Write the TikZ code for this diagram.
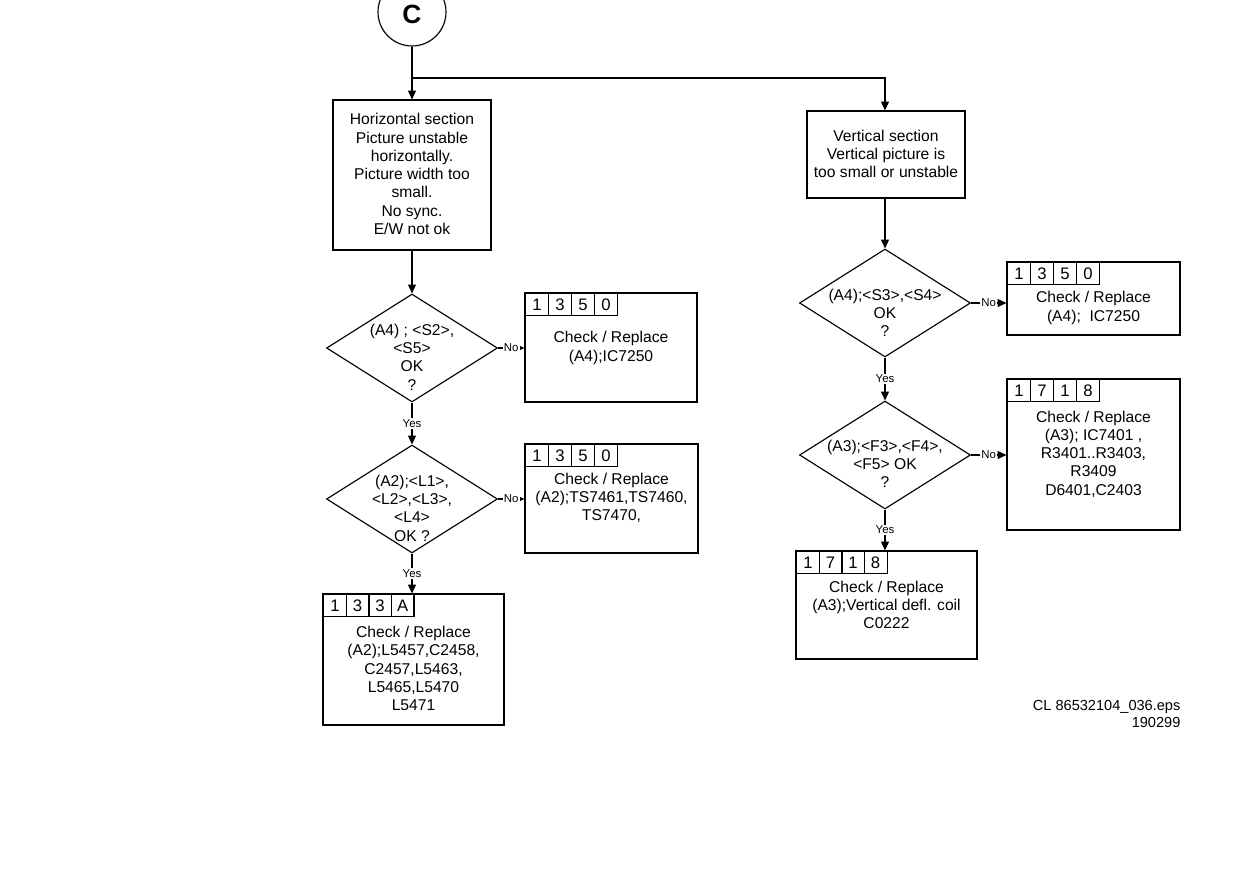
\documentclass[tikz,border=0pt]{standalone}
\usepackage{fontspec}
\setmainfont{Liberation Sans}
\usetikzlibrary{shapes.geometric,arrows.meta}
\begin{document}
\begin{tikzpicture}[x=0.02cm,y=-0.02cm,
  line width=0.65pt,
  every node/.style={font=\fontsize{8.9}{10.4}\selectfont},
  box/.style={draw, rectangle, inner sep=0},
  dia/.style={draw, diamond, inner sep=0, minimum width=3.42cm, minimum height=2.16cm},
  txt/.style={align=center, inner sep=0},
  cell/.style={draw, rectangle, anchor=north west, minimum width=0.46cm, minimum height=0.44cm, inner sep=0, font=\fontsize{9.5}{10}\selectfont},
  arr/.style={-{Triangle[length=5pt,width=4.5pt]}},
  lab/.style={font=\fontsize{6.5}{7}\selectfont, fill=white, inner sep=0.8pt}
]
\useasboundingbox (0,0) rectangle (1245,893);
\clip (0,0) rectangle (1245,893);

% start connector
\node[draw, circle, minimum size=1.36cm, inner sep=0] (c) at (412,12) {};
\node[inner sep=0, font=\fontsize{15}{15}\bfseries] (ct) at (412,14) {C};

% left column
\node[box, minimum width=3.16cm, minimum height=3.0cm] (h) at (412,175) {};
\node[txt] (ht) at (412,174) {Horizontal section\\Picture unstable\\horizontally.\\Picture width too\\small.\\No sync.\\E/W not ok};

\node[dia] (d1) at (412,348) {};
\node[txt] (d1t) at (412,357) {(A4) ; <S2>,\\<S5>\\OK\\?};

\node[dia] (d2) at (412,499) {};
\node[txt] (d2t) at (412,508) {(A2);<L1>,\\<L2>,<L3>,\\<L4>\\OK ?};

\node[box, minimum width=3.44cm, minimum height=2.18cm] (b1) at (611,347.5) {};
\node[txt] (b1t) at (611,348) {Check / Replace\\(A4);IC7250};

\node[box, minimum width=3.46cm, minimum height=2.18cm] (b2) at (611.5,498.5) {};
\node[txt] (b2t) at (611.5,498) {Check / Replace\\(A2);TS7461,TS7460,\\TS7470,};

\node[box, minimum width=3.62cm, minimum height=2.62cm] (b5) at (413.5,659.5) {};
\node[txt] (b5t) at (413.5,668.5) {Check / Replace\\(A2);L5457,C2458,\\C2457,L5463,\\L5465,L5470\\L5471};

% right column
\node[box, minimum width=3.16cm, minimum height=1.74cm] (v) at (886,154.5) {};
\node[txt] (vt) at (886,154) {Vertical section\\Vertical picture is\\too small or unstable};

\node[dia] (d3) at (885,303) {};
\node[txt] (d3t) at (885,313) {(A4);<S3>,<S4>\\OK\\?};

\node[dia] (d4) at (885,455) {};
\node[txt] (d4t) at (885,464) {(A3);<F3>,<F4>,\\<F5> OK\\?};

\node[box, minimum width=3.46cm, minimum height=1.46cm] (b3) at (1093.5,298.5) {};
\node[txt] (b3t) at (1093.5,308) {Check / Replace\\(A4);\ \ IC7250};

\node[box, minimum width=3.46cm, minimum height=3.02cm] (b4) at (1093.5,454.5) {};
\node[txt] (b4t) at (1093.5,454) {Check / Replace\\(A3);\ IC7401 ,\\R3401..R3403,\\R3409\\D6401,C2403};

\node[box, minimum width=3.62cm, minimum height=2.16cm] (b6) at (886.5,605) {};
\node[txt] (b6t) at (886.5,605) {Check / Replace\\(A3);Vertical defl. coil\\C0222};

% tabs
\foreach \d [count=\k] in {1,3,5,0} \node[cell] (b1c\k) at ({525+23*(\k-1)},293) {\d};
\foreach \d [count=\k] in {1,3,5,0} \node[cell] (b2c\k) at ({525+23*(\k-1)},444) {\d};
\foreach \d [count=\k] in {1,3,3,A} \node[cell] (b5c\k) at ({323+22.5*(\k-1)},594) {\d};
\foreach \d [count=\k] in {1,3,5,0} \node[cell] (b3c\k) at ({1007+23*(\k-1)},262) {\d};
\foreach \d [count=\k] in {1,7,1,8} \node[cell] (b4c\k) at ({1007+23*(\k-1)},379) {\d};
\foreach \d [count=\k] in {1,7,1,8} \node[cell] (b6c\k) at ({796+22.5*(\k-1)},551) {\d};

% connectors
\coordinate (j) at (412,78);
\draw[arr] (c.south) -- (h.north);
\draw[arr] (j) -| (d3.north |- v.north);
\draw[arr] (h.south) -- (d1.north);
\draw[arr] (d3.north |- v.south) -- (d3.north);

\draw[arr] (d1.east) -- node[lab, pos=0.5] {No} (d1.east -| b1.west);
\draw[arr] (d2.east) -- node[lab, pos=0.5] {No} (d2.east -| b2.west);
\draw[arr] (d3.east) -- node[lab, pos=0.5] {No} (d3.east -| b3.west);
\draw[arr] (d4.east) -- node[lab, pos=0.5] {No} (d4.east -| b4.west);

\draw[arr] (d1.south) -- node[lab] {Yes} (d2.north);
\draw[arr] (d2.south) -- node[lab] {Yes} (d2.south |- b5.north);
\draw[arr] (d3.south) -- node[lab] {Yes} (d4.north);
\draw[arr] (d4.south) -- node[lab] {Yes} (d4.south |- b6.north);

% footer
\node[anchor=east, align=right, inner sep=0, font=\fontsize{8.3}{9.3}\selectfont] (ft) at (1181,714) {CL 86532104\_036.eps\\190299};
\end{tikzpicture}
\end{document}
